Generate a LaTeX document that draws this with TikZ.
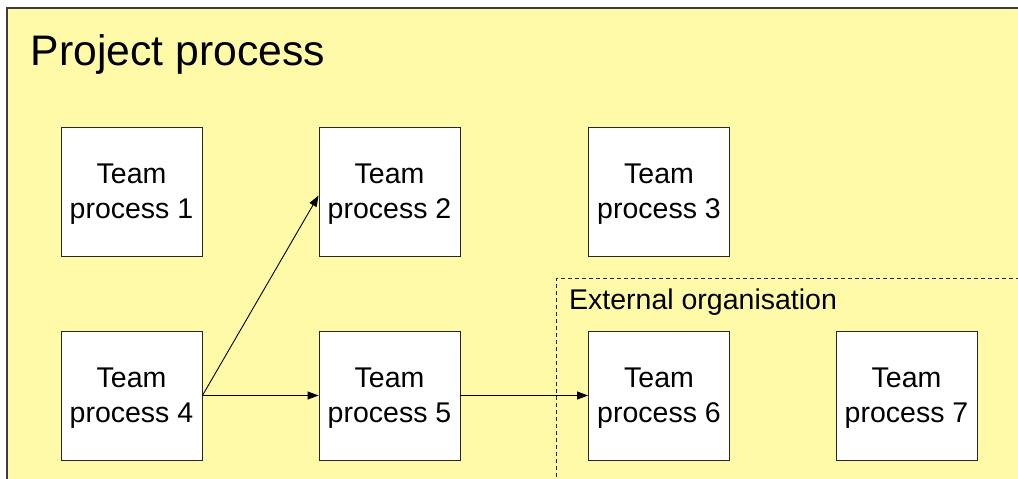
\documentclass[tikz,border=0pt]{standalone}
\usepackage{fontspec}
\setmainfont{Liberation Sans}
\usetikzlibrary{arrows.meta}
\definecolor{paneyellow}{RGB}{255,250,168}
\definecolor{frameline}{RGB}{60,60,60}
\tikzset{
  teambox/.style={draw=black!85, line width=0.9pt, fill=white,
    minimum width=141pt, minimum height=129pt, inner sep=0pt},
  boxtext/.style={align=center, inner sep=0pt, yshift=-2.5pt,
    font=\fontsize{28.5}{35}\selectfont},
  flow/.style={line width=0.9pt, -{Triangle[length=11pt,width=8pt]}},
  orgframe/.style={draw=black!85, line width=0.9pt, dash pattern=on 4pt off 3pt}
}
\begin{document}
\begin{tikzpicture}[x=1pt,y=-1pt]
\useasboundingbox (0,0) rectangle (1018,479);
% panel background and its frame
\fill[paneyellow] (7,8) rectangle (1018,479);
\draw[frameline, line width=1.6pt] (7,479) -- (7,8) -- (1018,8);
% title
\node[anchor=base west, inner sep=0pt, font=\fontsize{42.7}{50}\selectfont] (title) at (30.5,65) {Project process};
% external organisation area
\draw[orgframe] (1020,278.5) -- (556.5,278.5) -- (556.5,482);
\node[anchor=base west, inner sep=0pt, font=\fontsize{28.5}{34}\selectfont] (ext) at (569,309.5) {External organisation};
% team processes
\node[teambox, label={[boxtext]center:Team\\process 1}] (b1) at (131.5,191.5) {};
\node[teambox, label={[boxtext]center:Team\\process 2}] (b2) at (389.5,191.5) {};
\node[teambox, label={[boxtext]center:Team\\process 3}] (b3) at (659,191.5) {};
\node[teambox, label={[boxtext]center:Team\\process 4}] (b4) at (131.5,395.5) {};
\node[teambox, label={[boxtext]center:Team\\process 5}] (b5) at (389.5,395.5) {};
\node[teambox, label={[boxtext]center:Team\\process 6}] (b6) at (659,395.5) {};
\node[teambox, label={[boxtext]center:Team\\process 7}] (b7) at (906.5,395.5) {};
% hand-overs
\draw[flow] (b4.east) -- ([yshift=-4pt]b2.west);
\draw[flow] (b4.east) -- (b5.west);
\draw[flow] (b5.east) -- (b6.west);
\end{tikzpicture}
\end{document}
